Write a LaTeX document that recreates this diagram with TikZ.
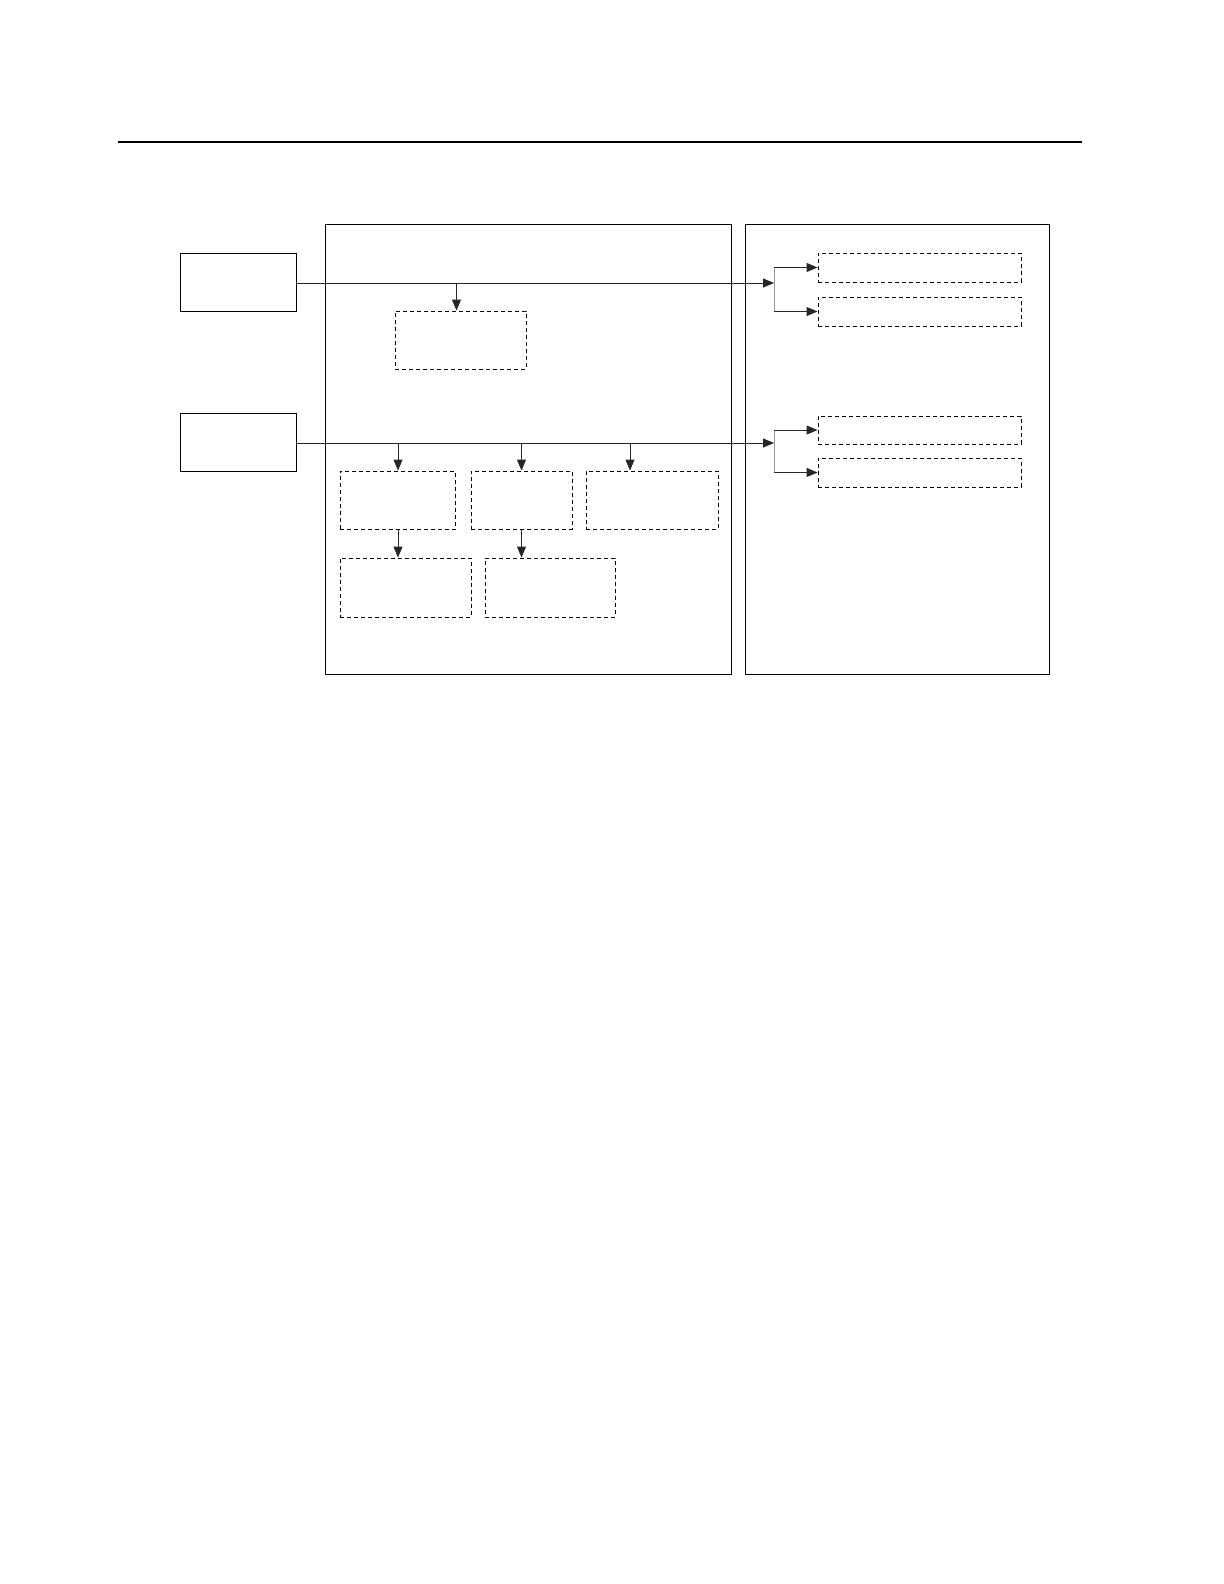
\documentclass[tikz,border=0pt]{standalone}
\usetikzlibrary{arrows.meta}
\tikzset{
  solidbox/.style={draw=black,line width=0.5pt,minimum width=#1,inner sep=0pt},
  dashbox/.style={draw=black,line width=0.45pt,dash pattern=on 2bp off 1.5bp,inner sep=0pt},
  flow/.style={draw=black!85,line width=0.5pt,-{Triangle[length=5.5bp,width=4.5bp]}},
  branch/.style={draw=black!40,line width=0.5pt},
}
\begin{document}
\begin{tikzpicture}[x=0.5bp,y=-0.5bp]
\useasboundingbox (0,0) rectangle (1224,1584);
\draw[line width=0.8pt] (118,142) -- (1082,142); %rule
% frames
\draw[line width=0.5pt] (325,224) rectangle (731,674);
\draw[line width=0.5pt] (745,224) rectangle (1049,674);
% sources
\node[solidbox=58bp,minimum height=29bp] (src1) at (238,282) {};
\node[solidbox=58bp,minimum height=29bp] (src2) at (238,442) {};
% left frame
\node[dashbox,minimum width=65.5bp,minimum height=29bp] (procA) at (460.5,340) {};
\node[dashbox,minimum width=57.75bp,minimum height=29bp] (procB) at (398,500) {};
\node[dashbox,minimum width=50.5bp,minimum height=29bp] (procC) at (521.5,500) {};
\node[dashbox,minimum width=66bp,minimum height=29bp] (procD) at (652,500) {};
\node[dashbox,minimum width=65.5bp,minimum height=29.5bp] (procE) at (405.5,587.5) {};
\node[dashbox,minimum width=65bp,minimum height=29.5bp] (procF) at (550,587.5) {};
% right frame
\node[dashbox,minimum width=101.5bp,minimum height=14.5bp] (outG) at (919.5,267.5) {};
\node[dashbox,minimum width=101.5bp,minimum height=14.5bp] (outH) at (919.5,311.5) {};
\node[dashbox,minimum width=101.5bp,minimum height=14bp] (outI) at (919.5,430) {};
\node[dashbox,minimum width=101.5bp,minimum height=14.5bp] (outJ) at (919.5,472.5) {};
\coordinate (hub1) at (774,283);
\coordinate (hub2) at (774,443);
\coordinate (tapA) at (456.5,283);
\coordinate (tapD) at (630,443);
% upper bus
\draw[flow] (src1.east |- hub1) -- (hub1);
\draw[flow] (tapA) -- (tapA |- procA.north);
\draw[branch] (hub1 |- outG.west) -- (hub1 |- outH.west);
\draw[flow] (hub1 |- outG.west) -- (outG.west);
\draw[flow] (hub1 |- outH.west) -- (outH.west);
% lower bus
\draw[flow] (src2.east |- hub2) -- (hub2);
\draw[flow] (procB.north |- hub2) -- (procB.north);
\draw[flow] (procC.north |- hub2) -- (procC.north);
\draw[flow] (tapD) -- (tapD |- procD.north);
\draw[flow] (procB.south) -- (procB.south |- procE.north);
\draw[flow] (procC.south) -- (procC.south |- procF.north);
\draw[branch] (hub2 |- outI.west) -- (hub2 |- outJ.west);
\draw[flow] (hub2 |- outI.west) -- (outI.west);
\draw[flow] (hub2 |- outJ.west) -- (outJ.west);
\end{tikzpicture}
\end{document}
